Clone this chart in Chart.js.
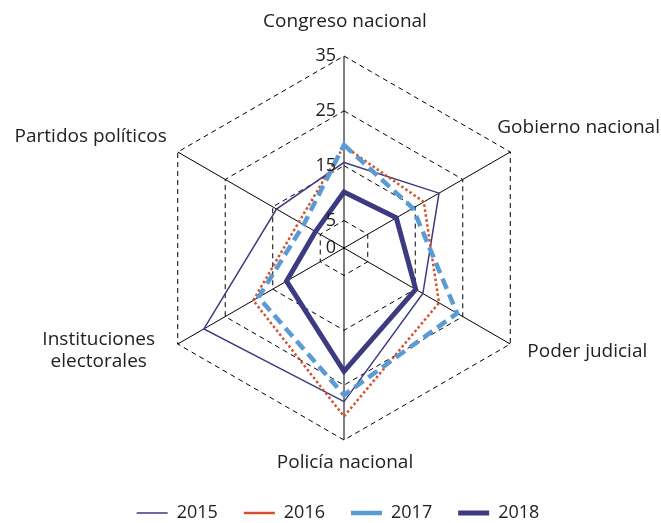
<!DOCTYPE html>
<html><head><meta charset="utf-8">
<script src="https://cdn.jsdelivr.net/npm/chart.js@4/dist/chart.umd.min.js"></script>
<style>html,body{margin:0;padding:0;background:#fff;}canvas{display:block;}</style>
</head><body>
<canvas id="c" width="661" height="523"></canvas>
<script>
const categories = ["Congreso nacional", "Gobierno nacional", "Poder judicial", "Policía nacional", ["Instituciones", "electorales"], "Partidos políticos"];
const seriesNames = ["2015", "2016", "2017", "2018"];
const values2015 = [15.6, 20.0, 16.6, 28.0, 29.5, 14.2];
const values2016 = [18.6, 16.8, 20.0, 30.7, 19.1, 9.5];
const values2017 = [18.8, 14.5, 23.8, 26.8, 18.0, 8.5];
const values2018 = [10.2, 11.0, 15.1, 22.5, 12.1, 6.0];
const tickValues = [0, 5, 15, 25, 35];

const FONT = '"Open Sans"';
const TEXT = '#222222';
const labelOffsets = [
  {dx: 1, dy: -34, align: 'center'},
  {dx: -13, dy: -24, align: 'left'},
  {dx: 17, dy: 8, align: 'left'},
  {dx: 1, dy: 23, align: 'center'},
  {dx: -79, dy: 7, align: 'center'},
  {dx: -11, dy: -15, align: 'right'}
];

const textPlugin = {
  id: 'radarText',
  afterDraw(chart) {
    const s = chart.scales.r;
    const ctx = chart.ctx;
    ctx.save();
    ctx.fillStyle = TEXT;
    ctx.font = '18px ' + FONT;
    ctx.textBaseline = 'middle';
    ctx.textAlign = 'right';
    s.ticks.forEach(t => {
      const d = s.getDistanceFromCenterForValue(t.value);
      ctx.fillText(String(t.value), s.xCenter - 8, s.yCenter - d);
    });
    ctx.font = '19px ' + FONT;
    categories.forEach((lab, i) => {
      const p = s.getPointPosition(i, s.drawingArea);
      const o = labelOffsets[i];
      ctx.textAlign = o.align;
      const lines = Array.isArray(lab) ? lab : [lab];
      lines.forEach((ln, k) => {
        ctx.fillText(ln, p.x + o.dx, p.y + o.dy + (k - (lines.length - 1) / 2) * 22);
      });
    });
    ctx.restore();
  }
};

const styles = [
  {color: '#3d3a82', width: 1.5, dash: [], order: 3},
  {color: '#d6502b', width: 2.5, dash: [2.5, 2.5], order: 2},
  {color: '#5b9bd5', width: 4.5, dash: [11, 6], order: 1},
  {color: '#3d3a82', width: 5, dash: [], order: 0}
];
const allValues = [values2015, values2016, values2017, values2018];

new Chart(document.getElementById('c'), {
  type: 'radar',
  data: {
    labels: categories,
    datasets: seriesNames.map((name, i) => ({
      label: name,
      data: allValues[i],
      borderColor: styles[i].color,
      backgroundColor: styles[i].color,
      borderWidth: styles[i].width,
      borderDash: styles[i].dash,
      order: styles[i].order,
      fill: false,
      pointRadius: 0,
      pointHoverRadius: 0,
      tension: 0
    }))
  },
  options: {
    responsive: false,
    animation: false,
    layout: {padding: {top: 56, left: 15, right: 0, bottom: 0}},
    plugins: {
      tooltip: {enabled: false},
      legend: {
        position: 'bottom',
        maxHeight: 83,
        title: {display: true, text: '', font: {size: 12}, padding: {top: 0, bottom: 23.6}},
        labels: {
          usePointStyle: true,
          pointStyle: 'line',
          pointStyleWidth: 31,
          padding: 26,
          color: TEXT,
          font: {family: FONT, size: 18},
          sort: (a, b) => a.datasetIndex - b.datasetIndex
        }
      }
    },
    scales: {
      r: {
        min: 0,
        max: 35,
        afterBuildTicks: s => { s.ticks = tickValues.map(v => ({value: v})); },
        afterFit: s => { s.xCenter += 6; },
        ticks: {display: false},
        pointLabels: {display: false},
        grid: {color: '#000000', lineWidth: 1},
        border: {dash: [5, 4]},
        angleLines: {color: '#000000', lineWidth: 1}
      }
    }
  },
  plugins: [textPlugin]
});
</script>
</body></html>
